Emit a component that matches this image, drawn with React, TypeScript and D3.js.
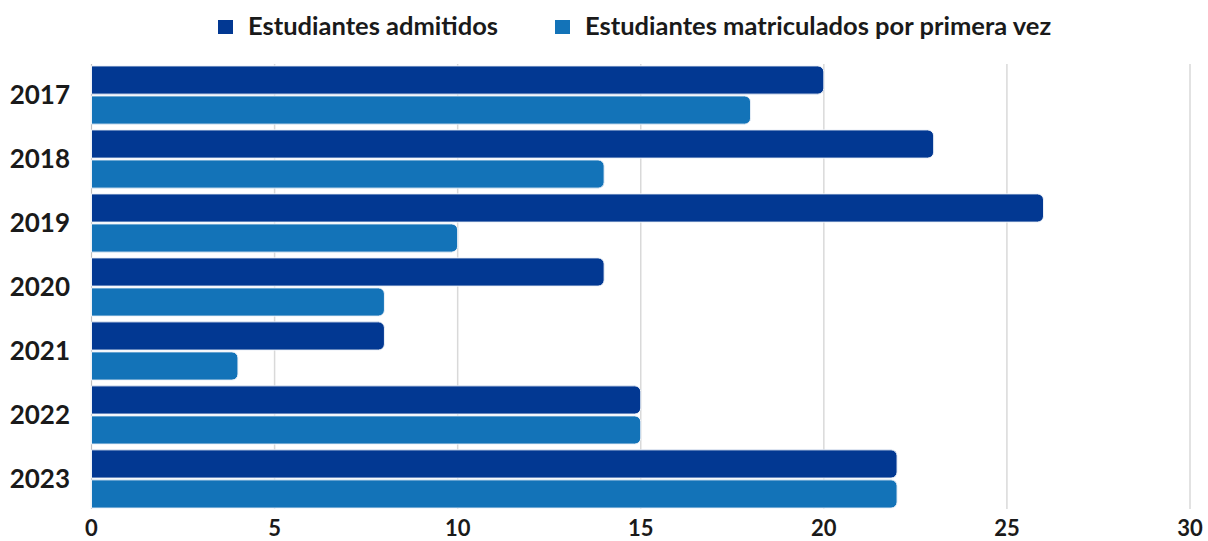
import React from "react";
import * as d3 from "d3";

const years = ["2017", "2018", "2019", "2020", "2021", "2022", "2023"];
const admitidos = [20, 23, 26, 14, 8, 15, 22];
const matriculados = [18, 14, 10, 8, 4, 15, 22];
const xTicks = [0, 5, 10, 15, 20, 25, 30];
const seriesNames = ["Estudiantes admitidos", "Estudiantes matriculados por primera vez"];
const colors = ["#023892", "#1373b8"];

const W = 1208;
const H = 541;
const FONT = "Lato, 'Open Sans', sans-serif";

function barPath(x0: number, x1: number, y: number, h: number, r: number) {
  const rr = Math.min(r, (x1 - x0) / 2, h / 2);
  return `M${x0},${y}H${x1 - rr}A${rr},${rr} 0 0 1 ${x1},${y + rr}V${y + h - rr}A${rr},${rr} 0 0 1 ${x1 - rr},${y + h}H${x0}Z`;
}

export default function App() {
  const x = d3.scaleLinear().domain([0, 30]).range([91.5, 1190]);
  const y = d3.scaleBand<string>().domain(years).range([64, 510]).paddingInner(0.09).paddingOuter(0.03);
  const sub = d3.scaleBand<number>().domain([0, 1]).range([0, y.bandwidth()]).paddingInner(0.06);
  const data = [admitidos, matriculados];

  return (
    <svg width={W} height={H} style={{ position: "absolute", left: 0, top: 0, background: "#fff" }} fontFamily={FONT}>
      {/* legend */}
      {seriesNames.map((name, i) => {
        const lx = i === 0 ? 218 : 555;
        return (
          <g key={name}>
            <rect x={lx} y={20} width={15} height={14} fill={colors[i]} />
            <text x={lx + 30} y={25} dominantBaseline="central" fontSize={25.5} fontWeight={700} fill="#1a1a1a">
              {name}
            </text>
          </g>
        );
      })}
      {/* grid */}
      {xTicks.slice(1).map((t) => (
        <line key={t} x1={x(t)} x2={x(t)} y1={64} y2={509} stroke="#d9d9d9" strokeWidth={1.5} />
      ))}
      <line x1={x(0)} x2={x(0)} y1={64} y2={509} stroke="#bfbfbf" strokeWidth={1.2} />
      {/* bars */}
      {years.map((yr, yi) => (
        <g key={yr}>
          {data.map((vals, si) => (
            <path
              key={si}
              d={barPath(x(0), x(vals[yi]), (y(yr) as number) + (sub(si) as number), sub.bandwidth(), 6)}
              fill={colors[si]}
              stroke="#eef2f8"
              strokeWidth={1}
            />
          ))}
          <text
            x={70}
            y={(y(yr) as number) + y.bandwidth() / 2 - 1}
            textAnchor="end"
            dominantBaseline="central"
            fontSize={26}
            fontWeight={700}
            fill="#1a1a1a"
          >
            {yr}
          </text>
        </g>
      ))}
      {/* x tick labels */}
      {xTicks.map((t) => (
        <text key={t} x={x(t)} y={527} textAnchor="middle" dominantBaseline="central" fontSize={22} fontWeight={700} fill="#1a1a1a">
          {t}
        </text>
      ))}
    </svg>
  );
}
